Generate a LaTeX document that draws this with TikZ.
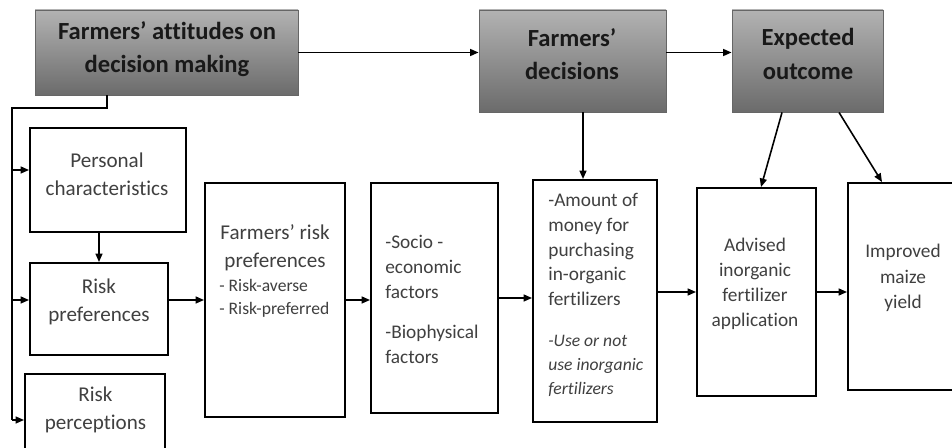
\documentclass[tikz,border=0pt]{standalone}
\usepackage{fontspec}
\setmainfont{Carlito}[Ligatures=NoCommon]
\usetikzlibrary{arrows.meta,calc}

\tikzset{
  head/.style={draw=black!60, line width=0.5pt, top color=black!30, bottom color=black!58, inner sep=0pt},
  box/.style={draw=black, line width=1.1pt, fill=white, inner sep=0pt},
  boxsize/.style 2 args={minimum width=#1*0.02cm, minimum height=#2*0.02cm},
  headtxt/.style={align=center, inner sep=0pt, text=black!90, font=\bfseries\fontsize{14}{19}\selectfont},
  bodytxt/.style={align=center, inner sep=0pt, text=black!75, font=\fontsize{12}{16}\selectfont},
  midtxt/.style={align=center, inner sep=0pt, text=black!75, font=\fontsize{11}{14.2}\selectfont},
  lefttxt/.style={align=left, inner sep=0pt, anchor=west, text=black!75, font=\fontsize{11}{14.2}\selectfont},
  link/.style={line width=0.9pt}
}

\begin{document}
\begin{tikzpicture}[x=0.02cm, y=-0.02cm, >={Triangle[length=0.17cm,width=0.14cm]}]
    \useasboundingbox (0,0) rectangle (952,448);

    % --- Top row (gray) ---
    \node[head, boxsize={263}{85}] (att) at (166.5,52.5) {};
    \node[head, boxsize={187}{102}] (dec) at (572.5,61) {};
    \node[head, boxsize={151}{102}] (exp) at (807.5,61) {};
    \node[headtxt] (attt) at (167,49) {Farmers’ attitudes on\\decision making};
    \node[headtxt] (dect) at (572,54) {Farmers’\\decisions};
    \node[headtxt] (expt) at (808,54) {Expected\\outcome};

    % --- Attitude boxes ---
    \node[box, boxsize={156}{104}] (pers) at (108,180) {};
    \node[box, boxsize={138}{92}] (rpref) at (99,309) {};
    \node[box, boxsize={140}{81}] (rperc) at (95,414.5) {};
    \node[bodytxt] (perst) at (107,174) {Personal\\characteristics};
    \node[bodytxt] (rpreft) at (99,302) {Risk\\preferences};
    \node[bodytxt] (rpercte) at (95.5,410) {Risk\\perceptions};

    % --- Chain ---
    \node[box, boxsize={140}{234}] (frp) at (275,300) {};
    \node[box, boxsize={127}{230}] (soc) at (434.5,298) {};
    \node[box, boxsize={124}{242}] (amt) at (595,301) {};
    \node[box, boxsize={119}{208}] (adv) at (756.5,292) {};
    \node[box, boxsize={130}{207}] (imp) at (913,286.5) {};

    \node[bodytxt] (frpt) at (275,247.5) {Farmers’ risk\\preferences};
    \node[lefttxt, font=\fontsize{10}{13}\selectfont] (frpl) at (219,298.5) {- Risk-averse\\- Risk-preferred};
    \node[lefttxt] (soct) at (385,299.5) {-Socio -\\economic\\factors\\[9pt]-Biophysical\\factors};
    \node[lefttxt] (amtt) at (548,249.5) {-Amount of\\money for\\purchasing\\in-organic\\fertilizers};
    \node[lefttxt, font=\itshape\fontsize{10}{13.6}\selectfont] (amti) at (548,366) {-Use or not\\use inorganic\\fertilizers};
    \node[midtxt] (advt) at (755,284) {Advised\\inorganic\\fertilizer\\application};
    \node[midtxt, font=\fontsize{11}{14.7}\selectfont] (impt) at (903,278) {Improved\\maize\\yield};

    % --- Connectors ---
    \draw[link, ->] (att.east) -- (att.east -| dec.west);
    \draw[link, ->] (dec.east |- att.east) -- (exp.west |- att.east);

    \coordinate (a1) at ($(att.south)+(-59.5,0)$);
    \coordinate (trunk) at (12,108);
    \coordinate (t1) at (12,170);
    \coordinate (t2) at (12,300);
    \coordinate (t3) at (12,420);
    \draw[link] (a1) |- (trunk) -- (t3);
    \draw[link, ->] (t1) -- (t1 -| pers.west);
    \draw[link, ->] (t2) -- (t2 -| rpref.west);
    \draw[link, ->] (t3) -- (t3 -| rperc.west);

    \draw[link, ->] (rpref.north |- pers.south) -- (rpref.north);
    \draw[link, ->] (frp.west -| rpref.east) -- (frp.west);
    \draw[link, ->] (frp.east) -- (frp.east -| soc.west);
    \draw[link, ->] (soc.east) -- (soc.east -| amt.west);
    \draw[link, ->] (adv.west -| amt.east) -- (adv.west);
    \draw[link, ->] (adv.east) -- (adv.east -| imp.west);

    \coordinate (d1) at ($(dec.south)+(10.5,0)$);
    \draw[link, ->] (d1) -- (d1 |- amt.north);
    \draw[link, ->] ($(exp.south)+(-25.5,0)$) -- ($(adv.north)+(4.5,0)$);
    \draw[link, ->] ($(exp.south)+(31.5,0)$) -- ($(imp.north)+(-31,0)$);
\end{tikzpicture}
\end{document}
